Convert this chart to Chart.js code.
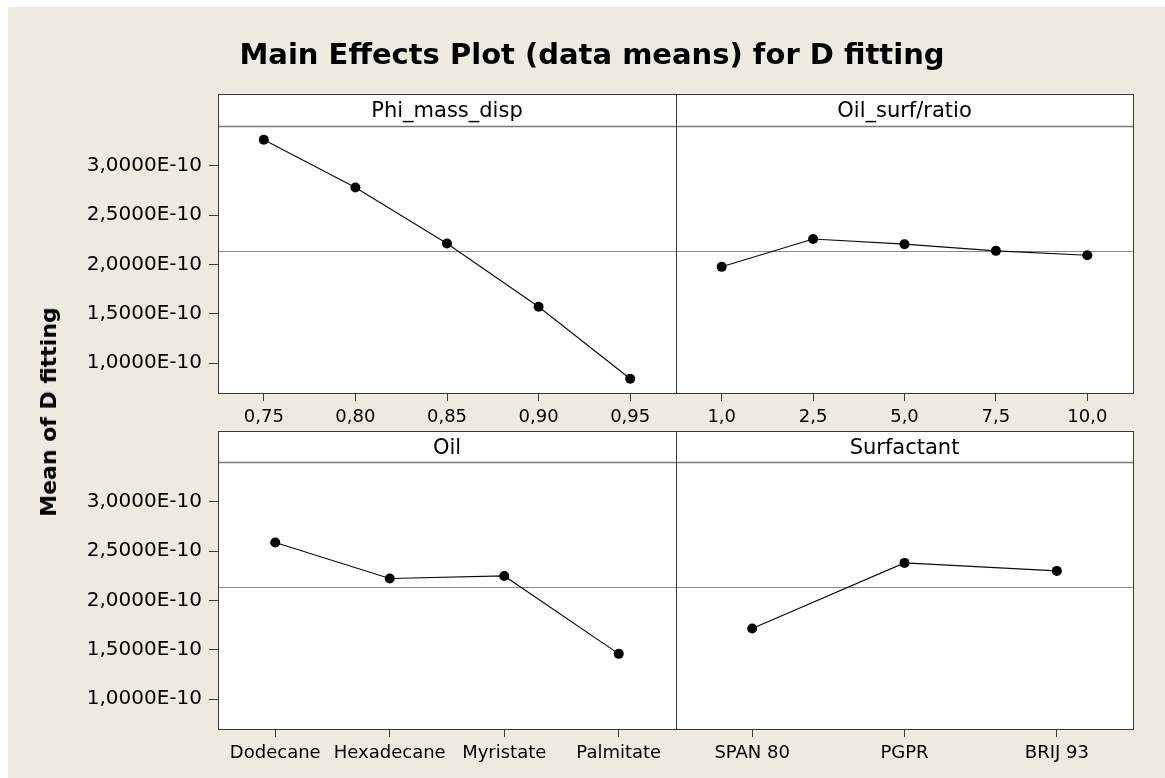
<!DOCTYPE html>
<html>
<head>
<meta charset="utf-8">
<script src="https://cdn.jsdelivr.net/npm/chart.js@4.4.1/dist/chart.umd.min.js"></script>
<style>
  html, body { margin: 0; padding: 0; background: #ffffff; }
  #page { position: relative; width: 1165px; height: 778px; overflow: hidden; background: #ffffff; }
  #bg { position: absolute; left: 8px; top: 7px; right: 0; bottom: 0; background: rgb(238,234,224); }
  canvas { position: absolute; left: 0; top: 0; }
  #title {
    position: absolute; left: 592px; top: 54px; transform: translate(-50%, -50%);
    font: bold 29px "DejaVu Sans"; line-height: 29px; white-space: nowrap; color: #000;
  }
  #ytitle {
    position: absolute; left: 49px; top: 412px; transform: translate(-50%, -50%) rotate(-90deg);
    font: bold 22px "DejaVu Sans"; line-height: 22px; white-space: nowrap; color: #000;
  }
</style>
</head>
<body>
<div id="page">
  <div id="bg"></div>
  <canvas id="c1" width="1165" height="778"></canvas>
  <canvas id="c2" width="1165" height="778"></canvas>
  <canvas id="c3" width="1165" height="778"></canvas>
  <canvas id="c4" width="1165" height="778"></canvas>
  <div id="title">Main Effects Plot (data means) for D fitting</div>
  <div id="ytitle">Mean of D fitting</div>
</div>
<script>
// Factor levels (x tick labels)
const phiLevels = ['0,75', '0,80', '0,85', '0,90', '0,95'];
const ratioLevels = ['1,0', '2,5', '5,0', '7,5', '10,0'];
const oilLevels = ['Dodecane', 'Hexadecane', 'Myristate', 'Palmitate'];
const surfactantLevels = ['SPAN 80', 'PGPR', 'BRIJ 93'];

// Mean of D fitting at each level
const phiMeans = [3.264e-10, 2.780e-10, 2.213e-10, 1.571e-10, 0.841e-10];
const ratioMeans = [1.976e-10, 2.259e-10, 2.206e-10, 2.138e-10, 2.094e-10];
const oilMeans = [2.588e-10, 2.223e-10, 2.249e-10, 1.459e-10];
const surfactantMeans = [1.716e-10, 2.381e-10, 2.300e-10];

// Grand mean reference line
const grandMean = 2.133e-10;

// Shared y axis
const yTickValues = [1.0e-10, 1.5e-10, 2.0e-10, 2.5e-10, 3.0e-10];
const yMin = 0.697e-10;
const yMax = 3.404e-10;

const FONT = '"DejaVu Sans"';
const Y_AXIS_WIDTH = 150;
const X_AXIS_HEIGHT = 45;
const fmtE10 = v => (v * 1e10).toFixed(4).replace('.', ',') + 'E-10';

// Draws the panel background, the grand-mean line, the frame and the header strip
const panelPlugin = {
  id: 'panel',
  beforeDraw(chart, args, o) {
    const { ctx, chartArea: a } = chart;
    const top = a.top - o.stripHeight;
    ctx.save();
    ctx.fillStyle = '#ffffff';
    ctx.fillRect(a.left, top, a.right - a.left, a.bottom - top);
    ctx.restore();
  },
  beforeDatasetsDraw(chart, args, o) {
    const { ctx, chartArea: a } = chart;
    const y = Math.round(chart.scales.y.getPixelForValue(o.mean)) + 0.5;
    ctx.save();
    ctx.strokeStyle = '#8a8a8a';
    ctx.lineWidth = 1;
    ctx.beginPath();
    ctx.moveTo(a.left, y);
    ctx.lineTo(a.right, y);
    ctx.stroke();
    ctx.restore();
  },
  afterDraw(chart, args, o) {
    const { ctx, chartArea: a } = chart;
    const top = a.top - o.stripHeight;
    const l = Math.round(a.left) + 0.5, r = Math.round(a.right) + 0.5;
    const t = Math.round(top) + 0.5, b = Math.round(a.bottom) + 0.5;
    ctx.save();
    // strip separator
    ctx.strokeStyle = '#7a7a7a';
    ctx.lineWidth = 1.5;
    ctx.beginPath();
    ctx.moveTo(l, Math.round(a.top) + 0.5);
    ctx.lineTo(r, Math.round(a.top) + 0.5);
    ctx.stroke();
    // frame
    ctx.strokeStyle = '#383838';
    ctx.lineWidth = 1;
    ctx.strokeRect(l, t, r - l, b - t);
    // strip label
    ctx.fillStyle = '#000';
    ctx.font = '21px ' + FONT;
    ctx.textAlign = 'center';
    ctx.textBaseline = 'alphabetic';
    ctx.fillText(o.title, (a.left + a.right) / 2, top + 22.5);
    ctx.restore();
  }
};

function makePanel(id, cfg) {
  const showY = cfg.showY;
  new Chart(document.getElementById(id), {
    type: 'line',
    data: {
      labels: cfg.labels,
      datasets: [{
        data: cfg.values,
        borderColor: '#0a0a0a',
        borderWidth: 1.1,
        backgroundColor: '#000',
        pointRadius: 5,
        pointBorderWidth: 0,
        pointBackgroundColor: '#000',
        tension: 0,
        fill: false
      }]
    },
    options: {
      responsive: false,
      animation: false,
      devicePixelRatio: 1,
      events: [],
      layout: { padding: cfg.padding },
      plugins: {
        legend: { display: false },
        tooltip: { enabled: false },
        panel: { title: cfg.title, mean: grandMean, stripHeight: cfg.stripHeight }
      },
      scales: {
        x: {
          type: 'category',
          offset: true,
          afterFit: s => { s.height = X_AXIS_HEIGHT; },
          ticks: {
            font: { family: FONT, size: 18 },
            color: '#000',
            padding: 6,
            autoSkip: false,
            maxRotation: 0,
            minRotation: 0
          },
          grid: { drawOnChartArea: false, drawTicks: true, tickLength: 8, color: '#3a3a3a', lineWidth: 1 },
          border: { display: false }
        },
        y: {
          type: 'linear',
          display: showY,
          min: yMin,
          max: yMax,
          afterBuildTicks: s => { s.ticks = yTickValues.map(v => ({ value: v })); },
          afterFit: s => { s.width = showY ? Y_AXIS_WIDTH : 0; },
          ticks: {
            font: { family: FONT, size: 20 },
            color: '#000',
            padding: 7,
            callback: v => fmtE10(v)
          },
          grid: { drawOnChartArea: false, drawTicks: true, tickLength: 9, color: '#3a3a3a', lineWidth: 1 },
          border: { display: false }
        }
      }
    },
    plugins: [panelPlugin]
  });
}

const W = 1165, H = 778;
// panel edges
const xL = 218, xM = 676, xR = 1133;
const topRow = { stripTop: 94, dataTop: 126, dataBottom: 393 };
const botRow = { stripTop: 431, dataTop: 462, dataBottom: 729 };

function pad(left, right, row, showY) {
  return {
    left: showY ? left - Y_AXIS_WIDTH : left,
    right: W - right,
    top: row.dataTop,
    bottom: H - row.dataBottom - X_AXIS_HEIGHT
  };
}

makePanel('c1', { title: 'Phi_mass_disp', labels: phiLevels, values: phiMeans, showY: true,
  padding: pad(xL, xM, topRow, true), stripHeight: topRow.dataTop - topRow.stripTop });
makePanel('c2', { title: 'Oil_surf/ratio', labels: ratioLevels, values: ratioMeans, showY: false,
  padding: pad(xM, xR, topRow, false), stripHeight: topRow.dataTop - topRow.stripTop });
makePanel('c3', { title: 'Oil', labels: oilLevels, values: oilMeans, showY: true,
  padding: pad(xL, xM, botRow, true), stripHeight: botRow.dataTop - botRow.stripTop });
makePanel('c4', { title: 'Surfactant', labels: surfactantLevels, values: surfactantMeans, showY: false,
  padding: pad(xM, xR, botRow, false), stripHeight: botRow.dataTop - botRow.stripTop });
</script>
</body>
</html>
